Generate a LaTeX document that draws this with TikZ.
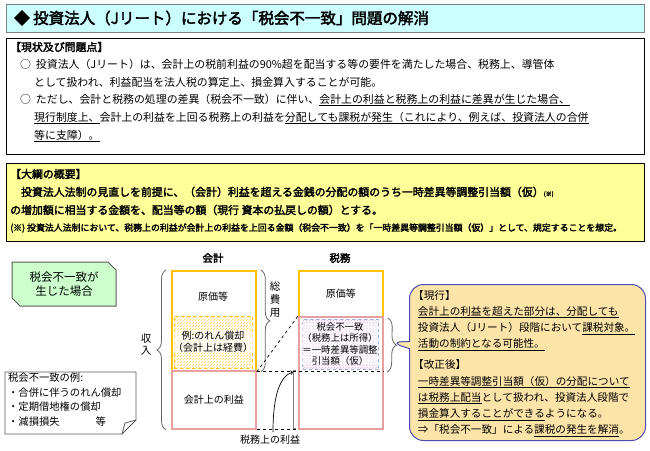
\documentclass[tikz,border=0pt]{standalone}
\usepackage{fontspec}
\setmainfont{Noto Sans CJK JP}[AutoFakeBold=2.5]
\usetikzlibrary{patterns,shapes.callouts,decorations.pathreplacing,calc}
\definecolor{ttl}{HTML}{CCFFFF}
\definecolor{yel}{HTML}{FFFF99}
\definecolor{org}{HTML}{FFC000}
\definecolor{pnk}{HTML}{E6A0A0}
\definecolor{grn}{HTML}{CCFFCC}
\definecolor{cal}{HTML}{FCE4A8}
\definecolor{blu}{HTML}{8DB4E2}
\definecolor{hpink}{HTML}{E9A6F0}
\newcommand{\ul}[1]{\underline{#1}}
\begin{document}
\begin{tikzpicture}[x=1pt,y=-1pt,
  txt/.style={inner sep=0pt,anchor=west,font=\fontsize{10.9}{12}\selectfont},
  btxt/.style={txt,font=\fontsize{10.9}{12}\selectfont\bfseries},
  sm/.style={inner sep=0pt,font=\fontsize{10}{12}\selectfont,align=center},
  col/.style={draw,line width=1.8pt,minimum width=84pt,inner sep=0pt,font=\fontsize{10}{12}\selectfont,align=center},
  brc/.style={draw=gray!80!black,line width=0.8pt,decorate,decoration={brace,amplitude=9pt}},
  dsh/.style={dashed,line width=0.7pt}]
\useasboundingbox (0,0) rectangle (650,450);
\fill[white] (0,0) rectangle (650,450);
% title
\node[draw=gray,fill=ttl,line width=1pt,minimum width=638pt,minimum height=28pt,anchor=north west,inner sep=0pt] (title) at (6,4) {};
\node[btxt,font=\fontsize{15.5}{17}\selectfont\bfseries] (ttext) at (14,18) {◆ 投資法人（Jリート）における「税会不一致」問題の解消};
% box1
\node[draw=black,line width=1pt,minimum width=638pt,minimum height=116pt,anchor=north west,inner sep=0pt] (box1) at (6,38) {};
\node[btxt] (h1) at (10,47) {【現状及び問題点】};
\node[txt] (l1) at (20,64) {○\ \ 投資法人（Jリート）は、会計上の税前利益の90\%超を配当する等の要件を満たした場合、税務上、導管体};
\node[txt] (l2) at (34,82) {として扱われ、利益配当を法人税の算定上、損金算入することが可能。};
\node[txt] (l3) at (20,100) {○\ \ ただし、会計と税務の処理の差異（税会不一致）に伴い、\ul{会計上の利益と税務上の利益に差異が生じた場合、}};
\node[txt] (l4) at (34,118) {\ul{現行制度上、}会計上の利益を上回る税務上の利益を\ul{分配しても課税が発生（これにより、例えば、投資法人の合併}};
\node[txt] (l5) at (34,136) {\ul{等に支障）。}};
% box2
\node[draw=black,fill=yel,line width=1pt,minimum width=638pt,minimum height=78pt,anchor=north west,inner sep=0pt] (box2) at (6,163) {};
\node[btxt] (h2) at (10,174) {【大綱の概要】};
\node[btxt] (m1) at (10,192) {\quad 投資法人法制の見直しを前提に、（会計）利益を超える金銭の分配の額のうち一時差異等調整引当額（仮）{\fontsize{6}{7}\selectfont (※)}};
\node[btxt] (m2) at (10,210) {の増加額に相当する金額を、配当等の額（現行 資本の払戻しの額）とする。};
\node[btxt,font=\fontsize{8.9}{10}\selectfont\bfseries] (m3) at (10,228) {(※) 投資法人法制において、税務上の利益が会計上の利益を上回る金額（税会不一致）を「一時差異等調整引当額（仮）」として、規定することを想定。};
% green box
\draw[draw=gray!70!black,fill=grn,line width=1pt] (12,262) -- (108,262) -- (116,270) -- (116,306) -- (20,306) -- (12,298) -- cycle;
\node[sm,font=\fontsize{11.5}{14}\selectfont] (case) at (64,284) {税会不一致が\\生じた場合};
% note
\draw[draw=gray!70!black,fill=white,line width=0.8pt] (5,372) -- (136,372) -- (136,420) -- (122,434) -- (5,434) -- cycle;
\draw[draw=gray!70!black,line width=0.8pt] (122,434) -- (125,423) -- (136,420);
\node[txt,font=\fontsize{10.3}{14.5}\selectfont,align=left,anchor=north west] (note) at (8,373) {税会不一致の例:\\・合併に伴うのれん償却\\・定期借地権の償却\\・減損損失\hspace{3.5em}等};
% column heads
\node[sm,font=\fontsize{10.5}{12}\selectfont\bfseries] (hk) at (213,258) {会計};
\node[sm,font=\fontsize{10.5}{12}\selectfont\bfseries] (hz) at (340,258) {税務};
% accounting column
\node[col,draw=org,minimum height=100pt,anchor=north west] (ktop) at (171,270) {};
\node[sm] (kgen) at (213,297) {原価等};
\node[draw=org,dashed,pattern=north east lines,pattern color=org!70,minimum width=78pt,minimum height=52pt,anchor=north west,inner sep=0pt] (khatch) at (174,316) {};
\node[sm,fill=white,fill opacity=0.6,text opacity=1] (ktxt) at (213,342) {例:のれん償却\\（会計上は経費）};
\node[col,draw=pnk,minimum height=58pt,anchor=north west] (kbot) at (171,370) {会計上の利益};
% tax column
\node[col,draw=org,minimum height=46pt,anchor=north west] (ztop) at (298,270) {原価等};
\node[col,draw=pnk,minimum height=112pt,anchor=north west] (zbot) at (298,316) {};
\node[draw=blu,dashed,line width=1pt,pattern=north east lines,pattern color=hpink,minimum width=76pt,minimum height=50pt,anchor=north west,inner sep=0pt] (zhatch) at (302,319) {};
\node[sm,fill=white,fill opacity=0.5,text opacity=1,font=\fontsize{9.4}{11.2}\selectfont] (ztxt) at (340,344) {税会不一致\\（税務上は所得）\\＝一時差異等調整\\引当額（仮）};
% braces
\draw[brc] ($(kbot.south west)+(-5,0)$) -- ($(ktop.north west)+(-5,0)$);
\node[sm,font=\fontsize{10.5}{12}\selectfont] (shu) at (146,345) {収\\入};
\draw[brc] ($(ktop.north east)+(4,0)$) -- ($(ktop.south east)+(4,0)$);
\node[sm,font=\fontsize{10.5}{13}\selectfont] (sohi) at (275,300) {総\\費\\用};
\draw[brc] ($(zbot.north east)+(4,2)$) -- ($(zhatch.south east)+(8,2)$);
\draw[draw=gray,line width=0.6pt] (296,370) -- (293,370) -- (293,428) -- (296,428);
% dashed connectors
\draw[dsh] (ktop.south east) -- (zbot.north west);
\draw[dsh] (ktop.south east) -- (zbot.east |- ktop.south east);
\draw[dsh] (kbot.south east) -- (zbot.south west);
\node[sm] (zri) at (270,440) {税務上の利益};
\coordinate (zarr) at (293,372);
\draw[->,line width=0.7pt] (273,432) .. controls (273,395) and (280,376) .. (zarr);
% callout
\node[rectangle callout,rounded corners=14pt,draw=gray!60!blue,fill=cal,line width=1pt,callout absolute pointer={(389,342)},minimum width=236pt,minimum height=156pt,anchor=north west,inner sep=0pt] (call) at (409,284) {};
\node[txt,font=\fontsize{10.6}{16.2}\selectfont,align=left,anchor=north west] (ctxt) at (413,290) {【現行】\\
\ \ \ul{会計上の利益を超えた部分は、分配しても}\\
\ \ 投資法人（Jリート）段階において\ul{課税対象。}\\
\ \ \ul{活動の制約となる可能性。}\\[5pt]
【改正後】\\
\ \ \ul{一時差異等調整引当額（仮）の分配について}\\
\ \ \ul{は税務上配当}として扱われ、投資法人段階で\\
\ \ \ul{損金算入することができる}ようになる。\\
\ \ ⇒「税会不一致」による\ul{課税の発生を解消}。};
\end{tikzpicture}
\end{document}
